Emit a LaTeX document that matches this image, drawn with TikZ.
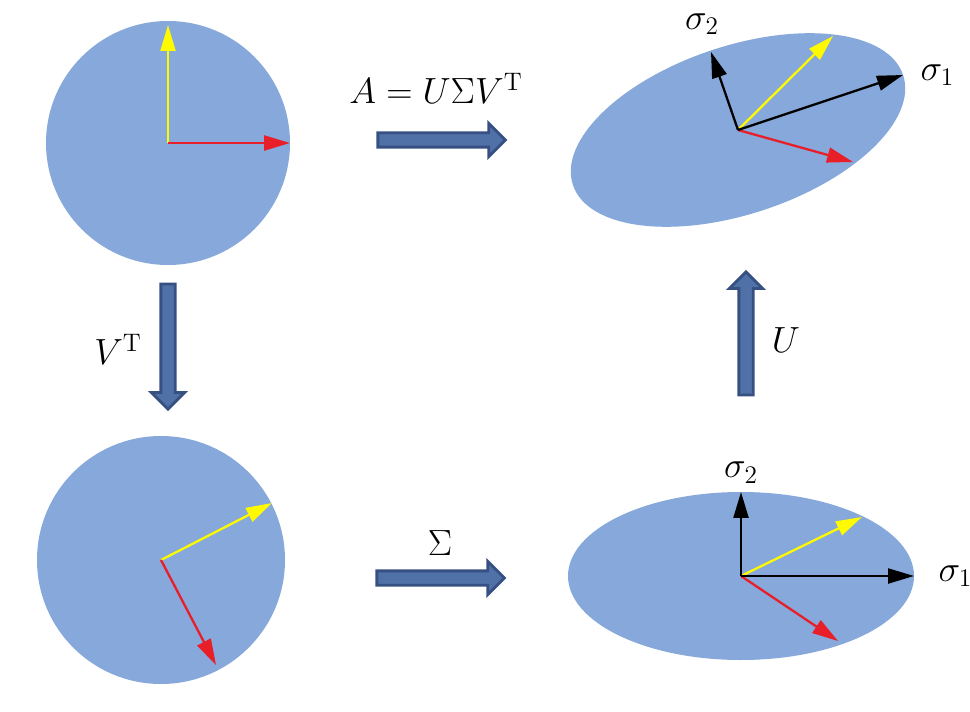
\documentclass[tikz,border=0pt]{standalone}
\usepackage{amsmath,amssymb}
\usepackage{xcolor}
\usetikzlibrary{arrows.meta,shapes.arrows}
\definecolor{disc}{RGB}{134,168,219}
\definecolor{bararrow}{RGB}{80,112,168}
\definecolor{barborder}{RGB}{54,80,130}
\definecolor{vred}{RGB}{232,30,40}
\definecolor{vyellow}{RGB}{255,250,0}

\begin{document}
\begin{tikzpicture}[x=0.02cm,y=0.02cm,
  vec/.style={line width=1.3pt,-{Triangle[length=0.52cm,width=0.3cm]}},
  bigarrow/.style={single arrow,fill=bararrow,draw=barborder,line width=1.6pt,
    inner sep=0.115cm,single arrow head extend=0.19cm,single arrow head indent=0pt,
    minimum height=2.55cm},
  lbl/.style={font=\fontsize{19.5}{23}\selectfont}]
  \useasboundingbox (0,0) rectangle (970,711);
  % Draw the four shapes
  \fill[disc] (168,568) circle (122);
  \fill[disc] (161,151) circle (124);
  \fill[disc] (741,135) ellipse (173 and 84);
  \fill[disc,rotate around={18.4:(738,581)}] (738,581) ellipse (174 and 84);
  % Origins of the vectors
  \coordinate (o1) at (168,568);
  \coordinate (o2) at (161,151);
  \coordinate (o3) at (741,135);
  \coordinate (o4) at (738,581);
  % Draw vectors on the unit circle
  \draw[vec,vyellow] (o1) -- (168,686);
  \draw[vec,vred] (o1) -- (290,568);
  % Draw vectors after V^T
  \draw[vec,vyellow] (o2) -- (272,208);
  \draw[vec,vred] (o2) -- (216,46);
  % Draw vectors after Sigma
  \draw[vec,vyellow] (o3) -- (862,194);
  \draw[vec,vred] (o3) -- (838,70);
  \draw[vec,black] (o3) -- (741,219) node[lbl,above=1pt] {$\sigma_2$};
  \draw[vec,black] (o3) -- (914,135) node[lbl,right=10pt] {$\sigma_1$};
  % Draw vectors after U
  \draw[vec,vyellow] (o4) -- (833,675);
  \draw[vec,vred] (o4) -- (853,549);
  \draw[vec,black] (o4) -- (711,659);
  \node[lbl] (s2top) at (702,687) {$\sigma_2$};
  \draw[vec,black] (o4) -- (903,636) node[lbl,right=6pt] {$\sigma_1$};
  % Draw the block arrows
  \node[bigarrow] (svd) at (438,571) {};
  \node[bigarrow] (sig) at (437,133) {};
  \node[bigarrow,rotate=-90,minimum height=2.5cm] (vt) at (168,368) {};
  \node[bigarrow,rotate=90,minimum height=2.46cm] (u) at (746,374) {};
  % Labels of the maps
  \node[lbl] (svdlabel) at (436,623) {$A=U\Sigma V^{\mathrm{T}}$};
  \node[lbl] (siglabel) at (440,168) {$\Sigma$};
  \node[lbl] (vtlabel) at (118,362) {$V^{\mathrm{T}}$};
  \node[lbl] (ulabel) at (786,371) {$U$};
\end{tikzpicture}
\end{document}
